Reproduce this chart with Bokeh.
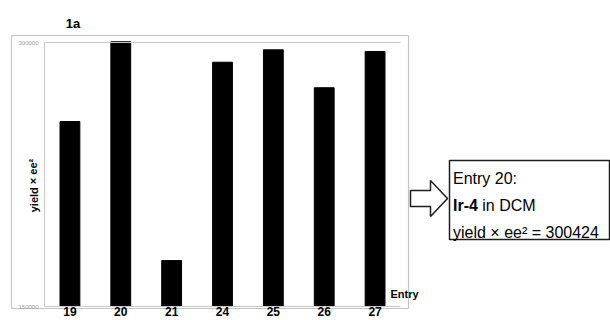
from bokeh.plotting import figure
from bokeh.models import (Range1d, FixedTicker, PrintfTickFormatter, LinearAxis,
                          Label, BoxAnnotation, PolyAnnotation)
from bokeh.embed import file_html
from bokeh.resources import INLINE

# ---- data ----
entries = ["19", "20", "21", "24", "25", "26", "27"]
yield_ee2 = [255100, 300424, 176100, 288800, 295850, 274300, 294900]
y_ticks = [150000, 300000]
y_base = 150000

# ---- layout (pixels on the 610x320 canvas) ----
W, H = 610, 320
AREA_L, AREA_R = 44, 400      # bar area, left/right (px)
AREA_T, AREA_B = 42, 306      # px of y_ticks[1] / y_ticks[0]
FONT = "Liberation Sans"
GRAY = "#c8c8c8"
DARK = "#1e1e1e"

n = len(entries)
slot = (AREA_R - AREA_L) / n
x_start = -0.5 - AREA_L / slot
x_end = (n - 0.5) + (W - AREA_R) / slot
k = (AREA_B - AREA_T) / (y_ticks[1] - y_ticks[0])     # px per unit
y_start = y_ticks[0] - (H - AREA_B) / k
y_end = y_ticks[0] + AREA_B / k
pos = list(range(n))

p = figure(width=W, height=H, output_backend="svg", toolbar_location=None,
           x_range=Range1d(x_start, x_end), y_range=Range1d(y_start, y_end),
           x_axis_location=None, y_axis_location=None, title_location=None,
           min_border=0, min_border_left=0, min_border_right=0,
           min_border_top=0, min_border_bottom=0,
           background_fill_color="white", border_fill_color="white",
           outline_line_color=None)
p.xgrid.visible = False
p.ygrid.visible = False

p.vbar(x=pos, top=yield_ee2, bottom=y_base, width=0.39,
       fill_color="black", line_color="black")

# y axis (inside the canvas, at the left edge of the bar area)
yax = LinearAxis(fixed_location=-0.5, bounds=(y_ticks[0], y_ticks[1]),
                 ticker=FixedTicker(ticks=y_ticks),
                 formatter=PrintfTickFormatter(format="%d"),
                 major_label_text_font=FONT, major_label_text_font_size="6px",
                 major_label_text_color="#9a9a9a", major_label_standoff=6,
                 major_tick_out=0, major_tick_in=0, minor_tick_out=0, minor_tick_in=0,
                 axis_line_color=GRAY)
p.add_layout(yax, "left")

# x axis (categories as labels)
xax = LinearAxis(fixed_location=y_ticks[0], bounds=(-0.5, n - 0.5),
                 ticker=FixedTicker(ticks=pos),
                 major_label_overrides={i: e for i, e in zip(pos, entries)},
                 major_label_text_font=FONT, major_label_text_font_size="12px",
                 major_label_text_font_style="bold", major_label_text_color="black",
                 major_label_standoff=0, major_tick_out=0, major_tick_in=0,
                 minor_tick_out=0, minor_tick_in=0, axis_line_color=GRAY)
p.add_layout(xax, "below")

# top reference line at 300000
topax = LinearAxis(fixed_location=y_ticks[1], bounds=(-0.5, n - 0.5),
                   ticker=FixedTicker(ticks=[]), major_tick_out=0, major_tick_in=0,
                   minor_tick_out=0, minor_tick_in=0, axis_line_color=GRAY)
p.add_layout(topax, "below")

# outer frame around the chart (screen units: y up from the bottom)
p.add_layout(BoxAnnotation(left=11, right=408, top=H - 35, bottom=H - 308,
                           left_units="screen", right_units="screen",
                           top_units="screen", bottom_units="screen",
                           fill_alpha=0, line_color="#c4c4c4", line_alpha=1,
                           line_width=1.2, level="underlay"))

# titles / labels
p.add_layout(Label(x=72.5, y=H - 23, x_units="screen", y_units="screen", text="1a",
                   text_font=FONT, text_font_size="13px", text_font_style="bold",
                   text_color="black", text_align="center",
                   text_baseline="alphabetic"))
p.add_layout(Label(x=33, y=H - 185, x_units="screen", y_units="screen",
                   text="yield × ee²", angle=1.5708, text_color="black",
                   text_font=FONT, text_font_size="11px", text_font_style="bold",
                   text_align="center", text_baseline="middle"))
p.add_layout(Label(x=390, y=H - 293, x_units="screen", y_units="screen", text="Entry",
                   text_font=FONT, text_font_size="11px", text_font_style="bold",
                   text_color="black", text_align="left", text_baseline="middle"))

# hollow arrow
ax_px = [410, 430, 430, 447, 430, 430, 410]
ay_px = [190, 190, 180, 198, 216, 206, 206]
p.add_layout(PolyAnnotation(xs=ax_px, ys=[H - v for v in ay_px],
                            xs_units="screen", ys_units="screen",
                            fill_color="white", fill_alpha=1,
                            line_color=DARK, line_alpha=1, line_width=1.5))

# annotation box
p.add_layout(BoxAnnotation(left=449, right=609, top=H - 160, bottom=H - 239,
                           left_units="screen", right_units="screen",
                           top_units="screen", bottom_units="screen",
                           fill_color="white", fill_alpha=1,
                           line_color=DARK, line_alpha=1, line_width=1.5))
p.add_layout(Label(x=452.5, y=H - 178, x_units="screen", y_units="screen",
                   text="Entry 20:", text_font=FONT, text_font_size="16px",
                   text_color="black", text_baseline="alphabetic"))
p.add_layout(Label(x=452.5, y=H - 205, x_units="screen", y_units="screen",
                   text="Ir-4", text_font=FONT, text_font_size="16px",
                   text_color="black", text_font_style="bold",
                   text_baseline="alphabetic"))
p.add_layout(Label(x=481.8, y=H - 205, x_units="screen", y_units="screen",
                   text="in DCM", text_font=FONT, text_font_size="16px",
                   text_color="black", text_baseline="alphabetic"))
p.add_layout(Label(x=452.5, y=H - 232, x_units="screen", y_units="screen",
                   text="yield × ee² = 300424", text_font=FONT,
                   text_font_size="16px", text_color="black",
                   text_baseline="alphabetic"))

open("out.html", "w").write(file_html(p, INLINE))
